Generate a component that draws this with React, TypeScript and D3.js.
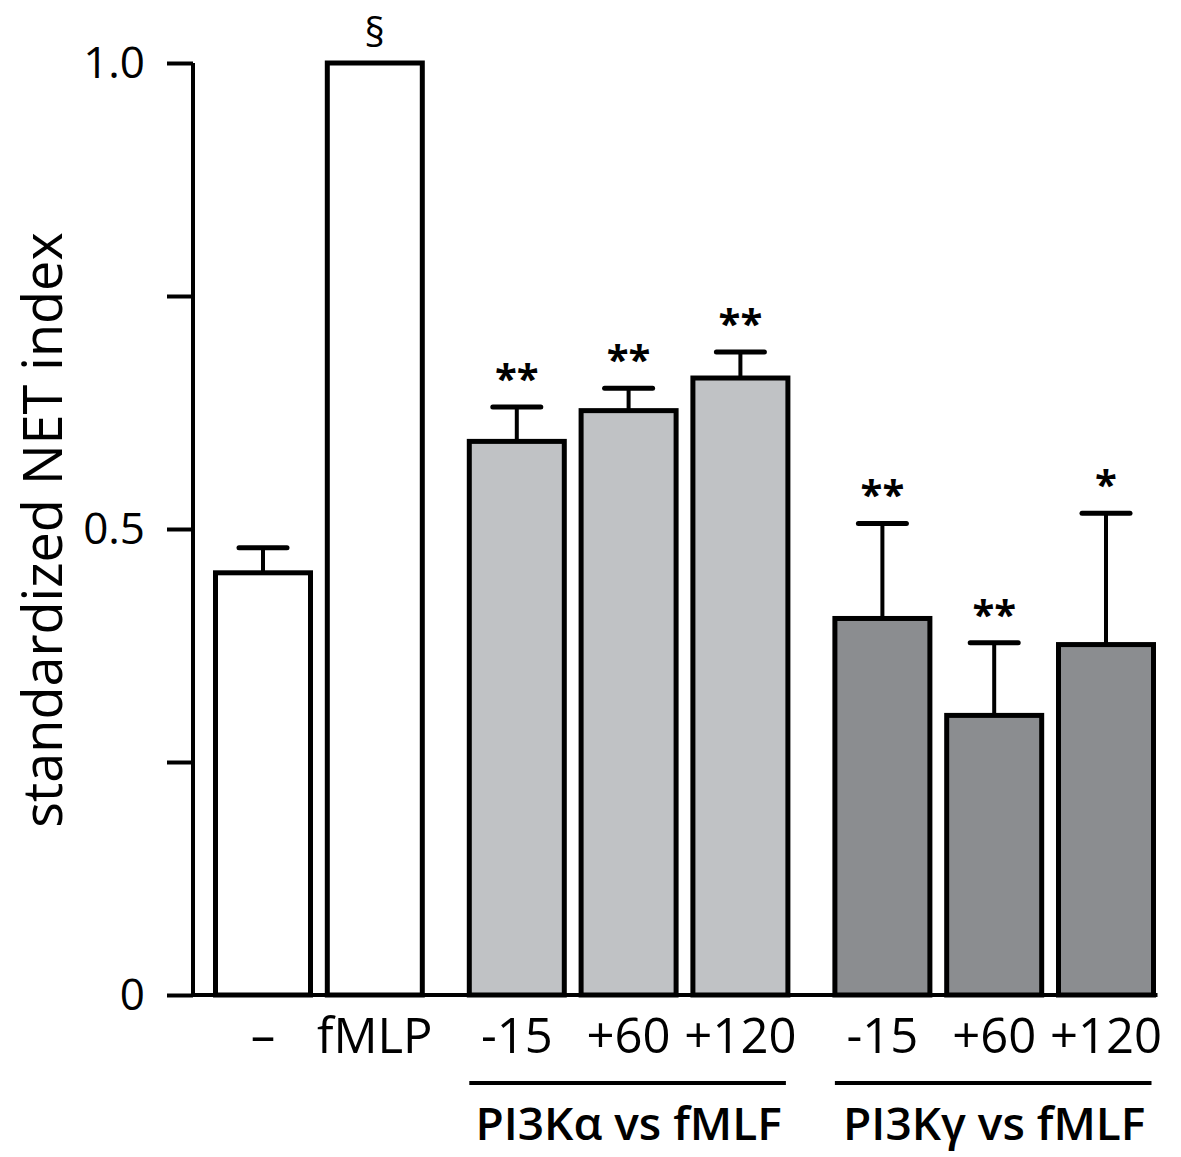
import * as d3 from 'd3';
import { useEffect, useRef } from 'react';

// bar data
const labels = ['–', 'fMLP', '-15', '+60', '+120', '-15', '+60', '+120'];
const groupOf = [0, 0, 1, 1, 1, 2, 2, 2];
const means = [0.453, 1.0, 0.594, 0.627, 0.662, 0.404, 0.300, 0.376];
const sems = [0.027, 0, 0.037, 0.024, 0.028, 0.102, 0.078, 0.141];
const marks = ['', '§', '**', '**', '**', '**', '**', '*'];
const groupNames = ['', 'PI3Kα vs fMLF', 'PI3Kγ vs fMLF'];
const fills = ['#ffffff', '#c0c2c5', '#8b8d90'];

const yTicks = [0, 0.25, 0.5, 0.75, 1.0];
const yTickLabels = ['0', '', '0.5', '', '1.0'];

const W = 1181;
const H = 1157;
const FONT = '"Open Sans", "DejaVu Sans", sans-serif';

export default function App() {
  const axisRef = useRef<SVGGElement>(null);

  const axisX = 193;
  const y = d3.scaleLinear().domain([0, 1]).range([995, 63]);

  // slot positions: one unit per bar plus a gap between groups
  const slot = (i: number) => i + groupOf[i] * 0.27;
  const x = d3.scaleLinear().domain([0, slot(7)]).range([263, 1106]);
  const bw = 95;

  useEffect(() => {
    if (!axisRef.current) return;
    const g = d3.select(axisRef.current);
    g.selectAll('*').remove();
    g.call(
      d3.axisLeft(y)
        .tickValues(yTicks)
        .tickSize(26)
        .tickPadding(22)
        .tickFormat((_, i) => yTickLabels[i])
    );
    g.select('.domain').attr('stroke-width', 4).attr('d', `M0,${y(1)}V${y(0)}`);
    g.selectAll('.tick line').attr('stroke-width', 4);
    g.selectAll('.tick text')
      .style('font-family', FONT)
      .style('font-size', '44px')
      .attr('fill', '#000');
  }, []);

  const groups = [1, 2].map(gi => {
    const idx = groupOf.map((g, i) => (g === gi ? i : -1)).filter(i => i >= 0);
    return {
      name: groupNames[gi],
      x0: x(slot(idx[0])) - bw / 2,
      x1: x(slot(idx[idx.length - 1])) + bw / 2,
    };
  });

  return (
    <svg width={W} height={H} style={{ position: 'absolute', left: 0, top: 0, background: '#fff' }}>
      {/* bars */}
      {means.map((m, i) => {
        const cx = x(slot(i));
        const isSect = marks[i] === '§';
        return (
          <g key={i}>
            {sems[i] > 0 && (
              <g stroke="#000" strokeWidth={4}>
                <line x1={cx} x2={cx} y1={y(m)} y2={y(m + sems[i])} />
                <line x1={cx - 24} x2={cx + 24} y1={y(m + sems[i])} y2={y(m + sems[i])} strokeLinecap="round" strokeWidth={5} />
              </g>
            )}
            <rect
              x={cx - bw / 2}
              y={y(m)}
              width={bw}
              height={y(0) - y(m)}
              fill={fills[groupOf[i]]}
              stroke="#000"
              strokeWidth={5}
            />
            <text
              x={cx}
              y={y(m + sems[i]) - (isSect ? 16 : 14)}
              textAnchor="middle"
              style={{ fontFamily: FONT, fontSize: 40, fontWeight: isSect ? 400 : 700 }}
            >
              {marks[i]}
            </text>
            <text
              x={cx}
              y={1053}
              textAnchor="middle"
              style={{ fontFamily: FONT, fontSize: 49, fontWeight: 500 }}
            >
              {labels[i]}
            </text>
          </g>
        );
      })}

      {/* x baseline */}
      <line x1={axisX} x2={groups[1].x1 + 4} y1={y(0)} y2={y(0)} stroke="#000" strokeWidth={4} />
      <g ref={axisRef} transform={`translate(${axisX},0)`} />

      {/* group brackets */}
      {groups.map(g => (
        <g key={g.name}>
          <line x1={g.x0} x2={g.x1 - 2} y1={1083} y2={1083} stroke="#000" strokeWidth={4} />
          <text
            x={(g.x0 + g.x1) / 2}
            y={1140}
            textAnchor="middle"
            style={{ fontFamily: FONT, fontSize: 46, fontWeight: 600 }}
          >
            {g.name}
          </text>
        </g>
      ))}

      <text
        transform="translate(62,530) rotate(-90)"
        textAnchor="middle"
        style={{ fontFamily: FONT, fontSize: 54 }}
      >
        standardized NET index
      </text>
    </svg>
  );
}
